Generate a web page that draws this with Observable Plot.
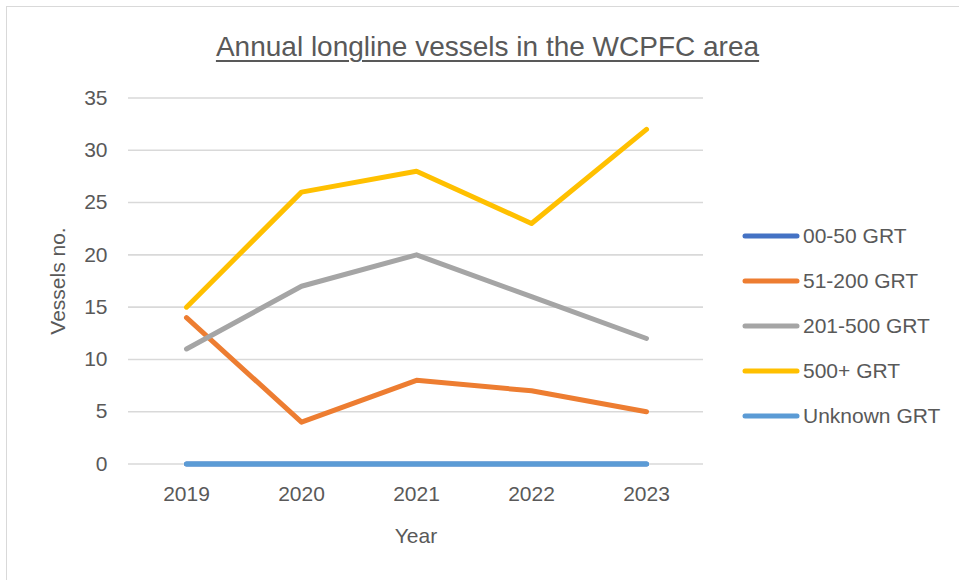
<!DOCTYPE html>
<html>
<head>
<meta charset="utf-8">
<script src="https://cdn.jsdelivr.net/npm/d3@7"></script>
<script src="https://cdn.jsdelivr.net/npm/@observablehq/plot@0.6"></script>
<style>
  html, body { margin: 0; padding: 0; background: #fff; }
  #wrap { position: relative; width: 959px; height: 580px; font-family: "Liberation Sans", Arial, sans-serif; color: #595959; }
  #frame { position: absolute; left: 6px; top: 6px; width: 960px; height: 580px; border: 1px solid #d9d9d9; box-sizing: border-box; pointer-events: none; }
  #title { position: absolute; left: 0; width: 975px; top: 31px; text-align: center; font-size: 28px; text-decoration: underline; text-decoration-thickness: 2px; text-underline-offset: 4px; }
  #legend { position: absolute; left: 742px; top: 213px; }
  .item { display: flex; align-items: center; height: 45.2px; font-size: 21px; white-space: nowrap; }
  .item svg { margin-right: 3px; }
  #chart { position: absolute; left: 0; top: 0; }
</style>
</head>
<body>
<div id="wrap">
  <div id="chart"></div>
  <div id="title"></div>
  <div id="legend"></div>
  <div id="frame"></div>
</div>
<script>
const titleText = "Annual longline vessels in the WCPFC area";
const years = ["2019", "2020", "2021", "2022", "2023"];
const seriesNames = ["00-50 GRT", "51-200 GRT", "201-500 GRT", "500+ GRT", "Unknown GRT"];
const seriesColors = ["#4472C4", "#ED7D31", "#A5A5A5", "#FFC000", "#5B9BD5"];
const grt0050 = [0, 0, 0, 0, 0];
const grt51200 = [14, 4, 8, 7, 5];
const grt201500 = [11, 17, 20, 16, 12];
const grt500plus = [15, 26, 28, 23, 32];
const grtUnknown = [0, 0, 0, 0, 0];
const yTicks = [0, 5, 10, 15, 20, 25, 30, 35];
const xLabel = "Year";
const yLabel = "Vessels no.";

const seriesValues = [grt0050, grt51200, grt201500, grt500plus, grtUnknown];
const rows = [];
seriesNames.forEach((name, i) => {
  years.forEach((yr, j) => rows.push({series: name, year: yr, value: seriesValues[i][j]}));
});

const chart = Plot.plot({
  width: 959,
  height: 580,
  marginLeft: 128,
  marginRight: 256,
  marginTop: 97.5,
  marginBottom: 116.5,
  style: {fontFamily: "Liberation Sans, Arial, sans-serif", fontSize: "21px", color: "#595959", background: "transparent"},
  x: {type: "point", domain: years, padding: 0.5},
  y: {domain: [0, 35]},
  color: {domain: seriesNames, range: seriesColors},
  marks: [
    Plot.gridY(yTicks, {stroke: "#d9d9d9", strokeOpacity: 1, strokeWidth: 1.6}),
    Plot.axisY(yTicks, {tickSize: 0, tickPadding: 21, label: yLabel, labelAnchor: "center", labelArrow: "none", labelOffset: 78, fill: "#595959"}),
    Plot.axisX({tickSize: 0, tickPadding: 22, label: xLabel, labelAnchor: "center", labelArrow: "none", labelOffset: 79, fill: "#595959"}),
    Plot.line(rows, {x: "year", y: "value", z: "series", stroke: "series", strokeWidth: 5, strokeLinecap: "round", strokeLinejoin: "round"})
  ]
});
document.getElementById("chart").appendChild(chart);
document.getElementById("title").textContent = titleText;

const legend = document.getElementById("legend");
seriesNames.forEach((name, i) => {
  const item = document.createElement("div");
  item.className = "item";
  item.innerHTML = `<svg width="58" height="8"><line x1="3" y1="4" x2="55" y2="4" stroke="${seriesColors[i]}" stroke-width="5" stroke-linecap="round"/></svg><span>${name}</span>`;
  legend.appendChild(item);
});
</script>
</body>
</html>
